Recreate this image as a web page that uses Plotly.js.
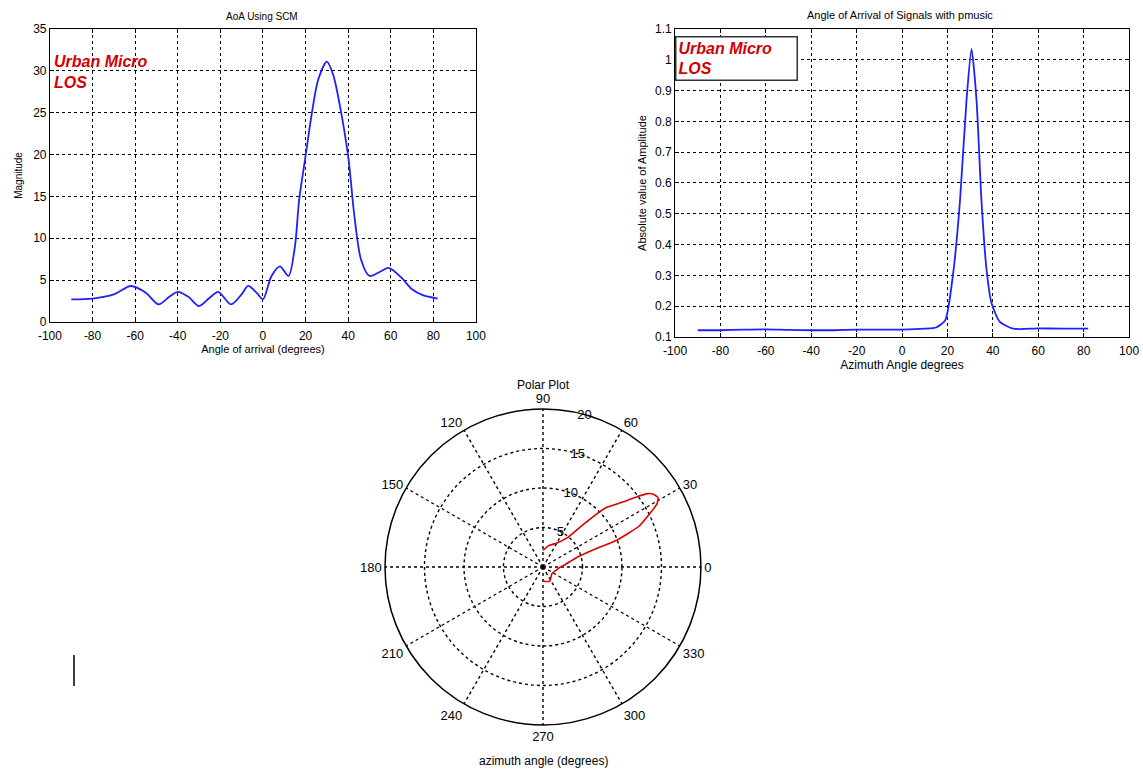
<!DOCTYPE html>
<html>
<head>
<meta charset="utf-8">
<script src="https://cdn.plot.ly/plotly-3.0.1.min.js"></script>
<style>html,body{margin:0;padding:0;background:#fff;}#chart{width:1143px;height:771px;}</style>
</head>
<body>
<div id="chart"></div>
<script>
// ---- AoA using SCM (top left) ----
const scmAngle = [-90,-80,-70,-62,-55,-49,-44,-40,-35,-30,-25,-21,-15,-10,-7,-3,0,4,8,12,15,17,20,23,26,30,33,36,40,43,46,50,55,59,65,70,75,82];
const scmMag   = [2.7,2.8,3.3,4.3,3.5,2.1,3.0,3.6,3.0,1.9,2.9,3.6,2.1,3.3,4.3,3.5,2.7,5.5,6.65,5.5,9.0,14.6,19.8,25.0,29.0,31.1,29.5,26.0,19.8,12.5,7.5,5.5,6.0,6.45,5.3,3.9,3.2,2.8];

// ---- Pmusic spectrum (top right) ----
const musicAngle = [-90,-80,-70,-60,-50,-40,-30,-20,-10,0,10,15,19,22.5,25.5,28.4,30.6,32.8,35,37.2,39.4,43,49,60,70,82];
const musicAmp   = [0.122,0.122,0.124,0.125,0.123,0.122,0.122,0.124,0.124,0.124,0.127,0.131,0.154,0.306,0.54,0.87,1.035,0.87,0.54,0.32,0.21,0.15,0.127,0.128,0.127,0.127];

// ---- Polar plot (bottom) ----
const polarTheta = [-90,-65,-35,-14,0,6,12,16,19,20,23,26,29,31,33,35,36.5,38.5,41,43.5,47,50,60,75,90];
const polarR     = [1.8,2.0,1.4,1.7,2.2,2.8,3.6,4.5,7.0,10.0,13.2,14.8,16.5,17.0,16.8,16.2,15.1,13.4,12.0,10.8,7.0,4.9,3.5,2.8,2.1];

const xTicks = [-100,-80,-60,-40,-20,0,20,40,60,80,100];
const scmYTicks = [0,5,10,15,20,25,30,35];
const musicYTicks = [0.1,0.2,0.3,0.4,0.5,0.6,0.7,0.8,0.9,1,1.1];
const polarAngTicks = [0,30,60,90,120,150,180,210,240,270,300,330];
const polarRTicks = [5,10,15,20];

const FONT = 'Liberation Sans, Arial, sans-serif';
const blue = '#2020ff';

function cartAxis(extra){
  return Object.assign({
    showline:true, mirror:'ticks', linecolor:'#000', linewidth:1,
    ticks:'inside', ticklen:4, tickcolor:'#000',
    showgrid:true, gridcolor:'#000', griddash:'dot', gridwidth:1,
    zeroline:false, tickfont:{family:FONT,size:12,color:'#000'}
  }, extra);
}

const data = [
  {x:scmAngle, y:scmMag, type:'scatter', mode:'lines', line:{color:blue,width:1.8,shape:'spline',smoothing:0.8}, xaxis:'x', yaxis:'y', showlegend:false},
  {x:musicAngle, y:musicAmp, type:'scatter', mode:'lines', line:{color:blue,width:1.8,shape:'spline',smoothing:0.6}, xaxis:'x2', yaxis:'y2', showlegend:false},
  {r:polarR, theta:polarTheta, type:'scatterpolar', mode:'lines', line:{color:'#e00000',width:1.6,shape:'spline',smoothing:0.5}, subplot:'polar', showlegend:false}
];

const layout = {
  width:1143, height:771,
  margin:{l:0,r:0,t:0,b:0},
  paper_bgcolor:'#fff', plot_bgcolor:'#fff',
  font:{family:FONT,color:'#000'},
  showlegend:false,
  xaxis: cartAxis({domain:[0.0437,0.4164], anchor:'y', range:[-100,100], tickmode:'array', tickvals:xTicks,
    ticktext:xTicks.map(String), ticklabelstandoff:3,
    title:{text:'Angle of arrival (degrees)', font:{size:11,family:FONT}, standoff:0}}),
  yaxis: cartAxis({domain:[0.5824,0.9624], anchor:'x', range:[0,35], tickmode:'array', tickvals:scmYTicks,
    ticktext:scmYTicks.map(String),
    title:{text:'Magnitude', font:{size:10,family:FONT}, standoff:8}}),
  xaxis2: cartAxis({domain:[0.5906,0.9878], anchor:'y2', range:[-100,100], tickmode:'array', tickvals:xTicks,
    ticktext:xTicks.map(String), ticklabelstandoff:3,
    title:{text:'Azimuth Angle degrees', font:{size:12,family:FONT}, standoff:0}}),
  yaxis2: cartAxis({domain:[0.5629,0.9624], anchor:'x2', range:[0.1,1.1], tickmode:'array', tickvals:musicYTicks,
    ticktext:musicYTicks.map(v=>String(v)),
    title:{text:'Absolute value of Amplitude', font:{size:11,family:FONT}, standoff:6}}),
  polar:{
    domain:{x:[0.3368,0.6133], y:[0.0597,0.4695]},
    bgcolor:'#fff',
    angularaxis:{rotation:0, direction:'counterclockwise', tickmode:'array', tickvals:polarAngTicks,
      ticktext:polarAngTicks.map(String), showline:true, linecolor:'#000', linewidth:1.5,
      showgrid:true, gridcolor:'#000', griddash:'dot', gridwidth:1.4, ticks:'',
      tickfont:{family:FONT,size:13,color:'#000'}},
    radialaxis:{range:[0,20], tickmode:'array', tickvals:polarRTicks, ticktext:polarRTicks.map(String),
      angle:80, tickangle:80, showline:false, showgrid:true, gridcolor:'#000', griddash:'dot', gridwidth:1.4,
      ticks:'', tickfont:{family:FONT,size:13,color:'#000'}}
  },
  annotations:[
    {text:'AoA Using SCM', xref:'paper', yref:'paper', x:262/1143, y:1-16/771, showarrow:false, font:{size:10,family:FONT}, xanchor:'center', yanchor:'middle'},
    {text:'Angle of Arrival of Signals with pmusic', xref:'paper', yref:'paper', x:900/1143, y:1-15/771, showarrow:false, font:{size:11,family:FONT}, xanchor:'center', yanchor:'middle'},
    {text:'<b><i>Urban Micro<br>LOS</i></b>', xref:'paper', yref:'paper', x:52/1143, y:1-51/771, showarrow:false, align:'left', xanchor:'left', yanchor:'top', font:{size:16,family:FONT,color:'#d40000'}},
    {text:'<b><i>Urban Micro&nbsp;&nbsp;&nbsp;&nbsp;&nbsp;<br>LOS</i></b>', xref:'paper', yref:'paper', x:675/1143, y:1-36/771, showarrow:false, align:'left', xanchor:'left', yanchor:'top', font:{size:16,family:FONT,color:'#d40000'},
      bordercolor:'#333', borderwidth:1.5, borderpad:2, bgcolor:'#fff'},
    {text:'Polar Plot', xref:'paper', yref:'paper', x:543/1143, y:1-385/771, showarrow:false, font:{size:12,family:FONT}, xanchor:'center', yanchor:'middle'},
    {text:'azimuth angle (degrees)', xref:'paper', yref:'paper', x:543/1143, y:1-761/771, showarrow:false, font:{size:12,family:FONT}, xanchor:'center', yanchor:'middle'}
  ],
  shapes:[
    {type:'line', xref:'paper', yref:'paper', x0:74/1143, x1:74/1143, y0:1-655/771, y1:1-686/771, line:{color:'#000',width:1.5}}
  ]
};

Plotly.newPlot('chart', data, layout, {displayModeBar:false, staticPlot:true});
</script>
</body>
</html>
